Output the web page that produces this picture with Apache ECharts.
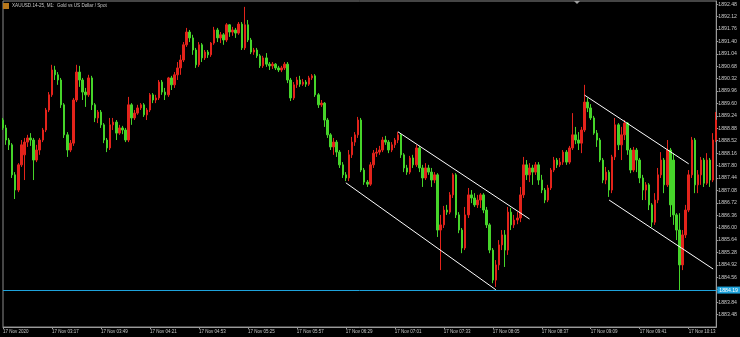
<!DOCTYPE html>
<html><head><meta charset="utf-8">
<script src="https://cdn.jsdelivr.net/npm/echarts@6/dist/echarts.min.js"></script>
<style>html,body{margin:0;padding:0;background:#000;}#c{width:740px;height:337px;}</style>
</head><body><div id="c"></div>
<script>
const times = [
"02:45","02:47","02:49","02:51","02:53","02:55","02:57","02:59",
"03:01","03:03","03:05","03:07","03:09","03:11","03:13","03:15","03:17","03:19","03:21","03:23","03:25","03:27","03:29","03:31","03:33","03:35","03:37","03:39","03:41","03:43","03:45","03:47","03:49","03:51","03:53","03:55","03:57","03:59",
"04:01","04:03","04:05","04:07","04:09","04:11","04:13","04:15","04:17","04:19","04:21","04:23","04:25","04:27","04:29","04:31","04:33","04:35","04:37","04:39","04:41","04:43","04:45","04:47","04:49","04:51","04:53","04:55","04:57","04:59",
"05:01","05:03","05:05","05:07","05:09","05:11","05:13","05:15","05:17","05:19","05:21","05:23","05:25","05:27","05:29","05:31","05:33","05:35","05:37","05:39","05:41","05:43","05:45","05:47","05:49","05:51","05:53","05:55","05:57","05:59",
"06:01","06:03","06:05","06:07","06:09","06:11","06:13","06:15","06:17","06:19","06:21","06:23","06:25","06:27","06:29","06:31","06:33","06:35","06:37","06:39","06:41","06:43","06:45","06:47","06:49","06:51","06:53","06:55","06:57","06:59",
"07:01","07:03","07:05","07:07","07:09","07:11","07:13","07:15","07:17","07:19","07:21","07:23","07:25","07:27","07:29","07:31","07:33","07:35","07:37","07:39","07:41","07:43","07:45","07:47","07:49","07:51","07:53","07:55","07:57","07:59",
"08:01","08:03","08:05","08:07","08:09","08:11","08:13","08:15","08:17","08:19","08:21","08:23","08:25","08:27","08:29","08:31","08:33","08:35","08:37","08:39","08:41","08:43","08:45","08:47","08:49","08:51","08:53","08:55","08:57","08:59",
"09:01","09:03","09:05","09:07","09:09","09:11","09:13","09:15","09:17","09:19","09:21","09:23","09:25","09:27","09:29","09:31","09:33","09:35","09:37","09:39","09:41","09:43","09:45","09:47","09:49","09:51","09:53","09:55","09:57","09:59",
"10:01","10:03","10:05","10:07","10:09","10:11","10:13","10:15","10:17","10:19","10:21","10:23","10:25","10:27","10:29","10:31"
];

const opens = [
1889.12,1888.89,1888.54,1888.40,1887.53,1887.09,1887.82,1888.11,1888.48,1888.60,
1888.54,1887.96,1888.25,1888.54,1888.83,1889.41,1889.85,1890.57,1890.43,1890.28,
1889.56,1888.69,1888.25,1888.45,1889.70,1890.51,1890.28,1889.93,1889.85,1890.34,
1889.56,1889.18,1889.35,1888.98,1888.54,1888.31,1888.98,1889.06,1888.74,1888.89,
1888.83,1888.54,1889.56,1889.18,1889.32,1889.47,1889.56,1889.27,1889.41,1889.85,
1889.70,1889.76,1890.22,1889.93,1889.85,1890.34,1890.14,1890.43,1890.63,1890.86,
1891.30,1891.67,1891.50,1891.15,1890.72,1891.30,1890.92,1891.09,1891.01,1891.35,
1891.73,1891.50,1891.59,1891.44,1891.88,1891.67,1891.73,1891.64,1891.90,1891.21,
1891.88,1891.44,1891.09,1891.15,1890.98,1890.69,1890.92,1890.74,1890.69,1890.74,
1890.63,1890.57,1890.63,1890.74,1890.28,1889.76,1890.14,1890.28,1890.16,1890.22,
1890.16,1890.34,1890.40,1889.85,1889.56,1889.61,1889.12,1888.69,1888.34,1888.48,
1888.19,1887.82,1887.53,1887.44,1888.11,1888.48,1888.69,1889.12,1887.67,1887.32,
1887.26,1887.82,1888.16,1888.19,1888.25,1888.54,1888.48,1888.25,1888.40,1888.54,
1888.69,1888.11,1887.73,1887.61,1888.02,1887.82,1888.31,1887.73,1887.44,1887.73,
1887.61,1887.38,1887.53,1885.93,1886.08,1886.51,1886.45,1886.95,1887.53,1886.37,
1885.93,1885.41,1886.37,1886.95,1886.86,1886.66,1886.80,1886.95,1886.51,1886.08,
1885.35,1884.48,1884.92,1885.50,1885.79,1885.35,1886.45,1886.08,1886.22,1886.28,
1886.95,1887.82,1887.53,1887.73,1887.61,1887.82,1887.38,1887.09,1886.80,1887.15,
1887.67,1887.96,1887.82,1887.90,1888.19,1887.90,1888.31,1888.69,1888.54,1888.45,
1888.83,1889.64,1889.47,1889.18,1888.74,1888.54,1887.96,1887.38,1887.61,1887.09,
1888.05,1888.98,1888.40,1888.69,1889.03,1888.25,1887.67,1888.25,1887.96,1887.44,
1887.09,1887.24,1886.66,1886.16,1886.80,1887.53,1887.96,1887.24,1888.25,1887.96,
1886.37,1885.93,1884.92,1885.79,1886.51,1887.53,1888.54,1887.24,1887.53,1887.96,
1887.29,1887.96,1887.38,1888.54
];

const closes = [
1888.89,1888.54,1888.40,1887.53,1887.09,1887.82,1888.40,1888.48,1888.60,1888.54,
1887.96,1888.25,1888.54,1888.83,1889.41,1889.85,1890.57,1890.43,1890.28,1889.56,
1888.69,1888.25,1888.45,1889.70,1890.51,1890.28,1889.93,1889.85,1890.34,1889.56,
1889.18,1889.35,1888.98,1888.54,1888.31,1888.98,1889.06,1888.74,1888.89,1888.83,
1888.54,1889.56,1889.18,1889.32,1889.47,1889.56,1889.27,1889.41,1889.85,1889.70,
1889.76,1890.22,1889.93,1889.85,1890.34,1890.14,1890.43,1890.63,1890.86,1891.30,
1891.67,1891.50,1891.15,1890.72,1891.30,1890.92,1891.09,1891.01,1891.35,1891.73,
1891.50,1891.59,1891.44,1891.88,1891.67,1891.73,1891.64,1891.90,1891.21,1891.88,
1891.44,1891.09,1891.15,1890.98,1890.69,1890.92,1890.74,1890.69,1890.74,1890.63,
1890.57,1890.63,1890.74,1890.28,1889.76,1890.14,1890.28,1890.16,1890.22,1890.16,
1890.34,1890.40,1889.85,1889.56,1889.61,1889.12,1888.69,1888.34,1888.48,1888.19,
1887.82,1887.53,1887.44,1888.11,1888.48,1888.69,1889.12,1887.67,1887.32,1887.26,
1887.82,1888.16,1888.19,1888.25,1888.54,1888.48,1888.25,1888.40,1888.54,1888.69,
1888.11,1887.73,1887.61,1888.02,1887.82,1888.31,1887.73,1887.44,1887.73,1887.61,
1887.38,1887.53,1885.93,1886.08,1886.51,1886.45,1886.95,1887.53,1886.37,1885.93,
1885.41,1886.37,1886.95,1886.86,1886.66,1886.80,1886.95,1886.51,1886.08,1885.35,
1884.48,1884.92,1885.50,1885.79,1885.35,1886.45,1886.08,1886.22,1886.28,1886.95,
1887.82,1887.53,1887.73,1887.61,1887.82,1887.38,1887.09,1886.80,1887.15,1887.67,
1887.96,1887.82,1887.90,1888.19,1887.90,1888.31,1888.69,1888.54,1888.45,1888.83,
1889.64,1889.47,1889.18,1888.74,1888.54,1887.96,1887.38,1887.61,1887.09,1888.05,
1888.98,1888.40,1888.69,1889.03,1888.25,1887.67,1888.25,1887.96,1887.44,1887.09,
1887.24,1886.66,1886.16,1886.80,1887.53,1887.96,1887.24,1888.25,1886.66,1886.37,
1885.93,1884.92,1885.79,1886.51,1887.53,1888.54,1887.24,1887.53,1887.96,1887.29,
1887.96,1887.38,1888.54,1889.12
];

const lows = [
1888.83,1888.40,1888.25,1887.44,1886.83,1887.03,1887.76,1887.38,1888.34,1888.37,
1887.38,1887.90,1888.11,1888.48,1888.77,1889.35,1889.79,1890.28,1890.14,1889.47,
1888.60,1888.05,1888.19,1888.37,1889.64,1890.08,1889.70,1889.50,1889.79,1889.41,
1889.06,1889.03,1888.89,1888.45,1888.19,1888.25,1888.83,1888.54,1888.69,1888.71,
1888.48,1888.48,1888.98,1889.12,1889.27,1889.41,1889.21,1889.12,1889.35,1889.61,
1889.61,1889.70,1889.85,1889.70,1889.79,1889.99,1890.05,1890.28,1890.43,1890.80,
1891.24,1891.38,1891.01,1890.63,1890.66,1890.80,1890.86,1890.92,1890.95,1891.30,
1891.38,1891.35,1891.30,1891.38,1891.53,1891.56,1891.50,1891.59,1891.15,1891.15,
1891.38,1891.03,1891.01,1890.92,1890.63,1890.63,1890.66,1890.57,1890.60,1890.57,
1890.51,1890.51,1890.57,1890.19,1889.67,1889.70,1890.05,1890.08,1890.11,1890.08,
1890.11,1890.28,1889.79,1889.47,1889.50,1888.92,1888.60,1888.25,1888.11,1888.05,
1887.73,1887.44,1887.35,1887.35,1888.02,1888.37,1888.60,1887.61,1887.24,1887.18,
1887.21,1887.73,1888.05,1888.11,1888.19,1888.40,1888.16,1888.19,1888.31,1888.45,
1888.02,1887.61,1887.53,1887.55,1887.73,1887.76,1887.61,1887.18,1887.38,1887.53,
1887.18,1887.29,1885.73,1884.77,1885.99,1886.37,1886.39,1886.86,1886.28,1885.84,
1885.26,1885.35,1886.28,1886.71,1886.60,1886.57,1886.57,1886.42,1885.99,1885.26,
1884.39,1884.28,1884.77,1885.35,1884.86,1885.21,1885.93,1885.99,1886.10,1886.16,
1886.86,1887.38,1887.32,1887.24,1887.53,1887.24,1887.00,1886.71,1886.74,1887.09,
1887.61,1887.73,1887.76,1887.82,1887.82,1887.84,1888.25,1888.42,1888.25,1888.16,
1888.77,1889.35,1889.12,1888.69,1888.34,1887.90,1887.29,1887.26,1886.89,1887.00,
1887.96,1888.25,1887.96,1888.54,1888.11,1887.58,1887.61,1887.61,1887.29,1886.80,
1886.80,1886.51,1886.02,1886.08,1886.71,1887.44,1887.00,1887.18,1886.31,1886.08,
1885.64,1884.19,1884.77,1885.70,1886.45,1887.44,1887.00,1887.00,1887.24,1887.18,
1887.24,1887.18,1887.32,1888.48
];

const highs = [
1889.18,1888.98,1888.60,1888.45,1887.61,1887.87,1888.54,1888.60,1888.69,1888.74,
1888.60,1888.40,1888.60,1888.89,1889.47,1889.93,1890.72,1890.69,1890.51,1890.34,
1889.61,1888.77,1888.54,1889.76,1890.72,1890.69,1890.34,1890.05,1890.43,1890.40,
1889.61,1889.41,1889.41,1889.03,1888.60,1889.18,1889.18,1889.12,1888.98,1888.95,
1888.89,1889.79,1889.61,1889.41,1889.56,1889.61,1889.61,1889.47,1889.90,1889.90,
1889.85,1890.28,1890.28,1890.05,1890.37,1890.40,1890.51,1890.80,1891.01,1891.38,
1891.79,1891.73,1891.59,1891.21,1891.38,1891.35,1891.15,1891.15,1891.38,1891.82,
1891.79,1891.67,1891.64,1891.93,1891.90,1891.82,1891.79,1891.96,1891.96,1892.40,
1892.02,1891.50,1891.21,1891.21,1891.03,1890.98,1891.06,1890.80,1890.80,1890.77,
1890.69,1890.69,1890.80,1890.80,1890.34,1890.22,1890.37,1890.40,1890.31,1890.28,
1890.40,1890.45,1890.45,1889.90,1889.70,1889.64,1889.18,1888.74,1888.60,1888.54,
1888.25,1887.90,1887.61,1888.25,1888.63,1888.77,1889.21,1889.18,1887.73,1887.38,
1887.90,1888.25,1888.31,1888.37,1888.63,1888.66,1888.54,1888.48,1888.60,1888.77,
1888.74,1888.16,1887.82,1888.08,1888.11,1888.40,1888.37,1887.82,1887.87,1887.82,
1887.73,1887.61,1887.58,1886.37,1886.63,1886.66,1887.03,1887.58,1887.58,1886.45,
1885.99,1886.60,1887.15,1887.09,1887.00,1886.95,1887.00,1887.00,1886.60,1886.13,
1885.41,1885.06,1885.64,1885.93,1885.93,1886.60,1886.57,1886.37,1886.45,1887.18,
1888.05,1887.96,1887.87,1887.82,1887.90,1887.90,1887.53,1887.15,1887.24,1887.73,
1888.05,1888.02,1888.02,1888.25,1888.25,1888.37,1889.32,1888.92,1888.77,1888.92,
1890.14,1889.76,1889.58,1889.24,1888.83,1888.60,1888.02,1887.76,1887.67,1888.11,
1889.18,1889.03,1888.92,1889.12,1889.06,1888.31,1888.34,1888.31,1888.02,1887.53,
1887.32,1887.29,1886.71,1887.00,1887.73,1888.19,1888.02,1888.54,1888.31,1888.16,
1886.42,1886.42,1885.93,1886.66,1887.67,1888.63,1888.60,1887.67,1888.05,1888.02,
1888.16,1888.02,1888.74,1889.35
];

// channel lines: [time, price]
const channel1Upper = [["07:03", 1888.78], ["08:29", 1886.25]];
const channel1Lower = [["06:29", 1887.30], ["08:07", 1884.20]];
const channel2Upper = [["09:05", 1889.84], ["10:13", 1887.85]];
const channel2Lower = [["09:21", 1886.80], ["10:29", 1884.80]];
const supportLevel = 1884.19;
const titleText = "XAUUSD.14-25, M1:  Gold vs US Dollar / Spot";
const firstLabel = "17 Nov 2020";
const labelPrefix = "17 Nov ";

const FONT = "'Liberation Sans', Arial, sans-serif";
const UP = '#e3231b', DOWN = '#46d42a', AXIS = '#9a9a9a', TXT = '#c8c8c8', CYAN = '#1ea3dc';

const candles = opens.map((o, i) => [o, closes[i], lows[i], highs[i]]);
const chanLine = (d) => ({
  type: 'line', data: d, symbol: 'none', silent: true, z: 5,
  lineStyle: { color: '#ffffff', width: 1 }
});

const chart = echarts.init(document.getElementById('c'), null, { renderer: 'canvas' });
chart.setOption({
  backgroundColor: '#000000',
  animation: false,
  grid: { left: 2, right: 19, top: 1, bottom: 10, show: true, borderColor: '#8a8a8a', borderWidth: 1 },
  xAxis: {
    type: 'category', data: times, boundaryGap: false,
    axisLine: { lineStyle: { color: AXIS } },
    axisTick: { show: true, length: 2, interval: (i) => i % 16 === 0, lineStyle: { color: AXIS } },
    axisLabel: {
      interval: (i) => i % 16 === 0,
      formatter: (v, i) => i === 0 ? firstLabel : labelPrefix + v,
      color: TXT, fontSize: 4.5, fontFamily: FONT, align: 'left', margin: 2
    },
    splitLine: { show: false }
  },
  yAxis: {
    type: 'value', position: 'right', min: 1883.12, max: 1892.57, interval: 0.36,
    axisLine: { show: true, lineStyle: { color: AXIS } },
    axisTick: { show: true, length: 2, lineStyle: { color: AXIS } },
    axisLabel: {
      formatter: (v) => v.toFixed(2), color: TXT, fontSize: 5.2, fontFamily: FONT,
      margin: 2, showMinLabel: false, showMaxLabel: false
    },
    splitLine: { show: false }
  },
  series: [
    {
      type: 'candlestick', data: candles, barWidth: 2,
      itemStyle: { color: UP, color0: DOWN, borderColor: UP, borderColor0: DOWN, borderWidth: 1 },
      markLine: {
        symbol: 'none', silent: true, animation: false,
        data: [{ yAxis: supportLevel }],
        lineStyle: { color: CYAN, width: 1, type: 'solid' },
        label: {
          show: true, position: 'end', formatter: () => supportLevel.toFixed(2),
          backgroundColor: CYAN, color: '#ffffff', fontSize: 5.2, fontFamily: FONT,
          padding: [1, 2], distance: 1
        }
      }
    },
    chanLine(channel1Upper),
    chanLine(channel1Lower),
    chanLine(channel2Upper),
    chanLine(channel2Lower)
  ],
  graphic: [
    { type: 'rect', left: 3, top: 3, shape: { width: 6, height: 6 }, style: { fill: '#b8781c' }, z: 100 },
    { type: 'text', left: 12, top: 3.5, style: { text: titleText, fill: TXT, font: '4.6px ' + FONT }, z: 100 },
    { type: 'polygon', shape: { points: [[574, 1], [580, 1], [577, 4]] }, style: { fill: '#a0a0a0' }, z: 100 }
  ]
});
</script>
</body></html>
